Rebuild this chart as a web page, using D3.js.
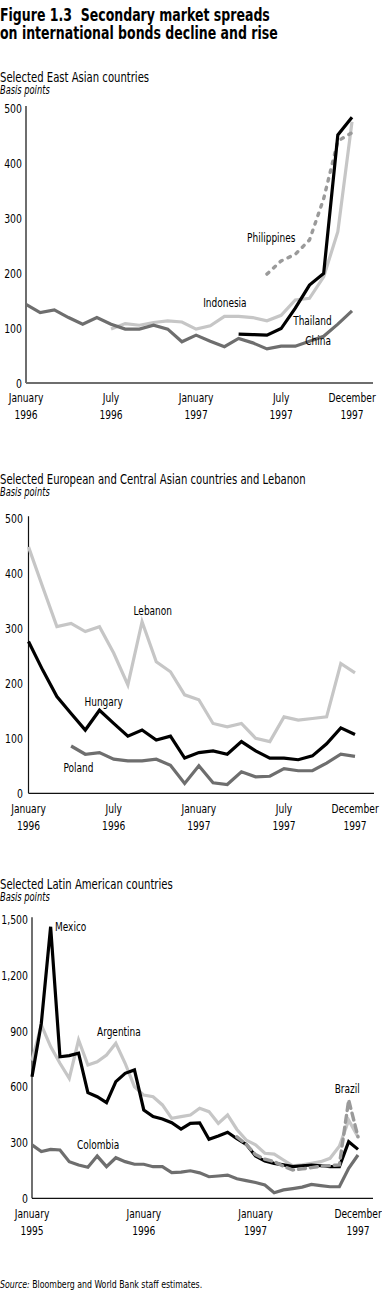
<!DOCTYPE html>
<html>
<head>
<meta charset="utf-8">
<script src="https://cdn.jsdelivr.net/npm/d3@7"></script>
<style>
  html, body { margin: 0; padding: 0; background: #fff; }
  svg { display: block; }
  text { font-family: "DejaVu Sans Condensed", "DejaVu Sans", sans-serif; fill: #000; }
</style>
</head>
<body>
<svg id="chart" width="382" height="1291"></svg>
<script>
// ---------------- DATA ----------------
// Panel 1: Selected East Asian countries, monthly Jan 1996 (0) .. Dec 1997 (23)
const china       = [143,128,133,119,107,119,107,98,98,105,98,75,87,76,66,81,73,62,67,67,76,85,107,131];
const indonesiaStart = 6;
const indonesia   = [98,108,105,110,113,111,98,104,121,121,119,113,123,151,154,193,275,475];
const thailandStart = 15;
const thailand    = [89,88,87,99,136,178,199,451,483];
const philippinesStart = 17;
const philippines = [198,222,234,260,335,440,455];
const eaXTicks = [0, 6, 12, 18, 23];
const eaXLabels = [["January","1996"],["July","1996"],["January","1997"],["July","1997"],["December","1997"]];
const eaYTicks = [0,100,200,300,400,500];

// Panel 2: Europe & Central Asia and Lebanon, monthly Jan 1996 .. Dec 1997
const lebanon = [448,375,303,309,294,303,255,197,312,239,221,179,170,127,121,127,100,94,139,133,136,139,236,219];
const hungary = [276,224,176,145,115,151,127,104,115,97,104,64,74,77,71,94,77,64,64,61,68,90,119,107];
const polandStart = 3;
const poland  = [86,71,74,62,59,59,62,51,18,50,19,16,39,30,31,45,41,41,55,71,67];
const euXTicks = [0, 6, 12, 18, 23];
const euXLabels = [["January","1996"],["July","1996"],["January","1997"],["July","1997"],["December","1997"]];
const euYTicks = [0,100,200,300,400,500];

// Panel 3: Latin America, monthly Jan 1995 (0) .. Dec 1997 (35)
const mexico    = [654,941,1460,761,767,780,568,546,514,627,672,690,475,439,426,406,372,403,406,317,335,355,320,290,227,200,188,180,170,175,179,175,170,170,304,263];
const argentina = [740,932,816,726,645,851,717,734,770,833,726,600,555,546,502,430,439,448,484,466,403,448,370,313,287,242,238,206,175,180,188,197,215,280,420,330];
const colombia  = [287,251,263,260,197,179,167,227,170,218,197,183,183,170,170,138,141,148,137,116,120,125,105,95,85,72,30,45,52,60,75,68,62,62,161,233];
const brazilStart = 22;
const brazil    = [330,290,235,210,197,172,152,158,165,172,176,180,528,331];
const laXTicks = [0, 12, 24, 35];
const laXLabels = [["January","1995"],["January","1996"],["January","1997"],["December","1997"]];
const laYTicks = [0,300,600,900,1200,1500];

// ---------------- DRAWING ----------------
const svg = d3.select("#chart");
const SX = 0.8; // horizontal condensing of the text face

function ctext(parent, x, y, str, size, sx, opts) {
  opts = opts || {};
  const t = parent.append("text")
    .attr("transform", `translate(${x},${y}) scale(${sx},1)`)
    .style("font-size", size + "px")
    .attr("text-anchor", opts.anchor || "start");
  if (opts.baseline) t.attr("dominant-baseline", opts.baseline);
  if (opts.weight) t.style("font-weight", opts.weight);
  if (opts.italic) t.style("font-style", "italic");
  if (str !== null) t.text(str);
  return t;
}

// Title
ctext(svg, 0, 21, "Figure 1.3\u00A0 Secondary market spreads", 17, 0.82, { weight: "bold" });
ctext(svg, 0, 39, "on international bonds decline and rise", 17, 0.82, { weight: "bold" });

function toPts(vals, start) { return vals.map((v, i) => [start + i, v]); }

function panel(cfg) {
  const g = svg.append("g");
  const x = d3.scaleLinear().domain(cfg.xDomain).range(cfg.xRange);
  const y = d3.scaleLinear().domain(cfg.yDomain).range(cfg.yRange);

  ctext(g, 0, cfg.headY, cfg.heading, 14, SX);
  ctext(g, 0, cfg.headY + 12, "Basis points", 11.5, 0.8, { italic: true });

  // axis lines
  g.append("line").attr("x1", x.range()[0]).attr("x2", x.range()[0])
    .attr("y1", y.range()[1] - 2).attr("y2", y.range()[0])
    .attr("stroke", cfg.axisColor).attr("stroke-width", cfg.axisWidth);
  g.append("line").attr("x1", x.range()[0]).attr("x2", cfg.xAxisEnd)
    .attr("y1", y.range()[0]).attr("y2", y.range()[0])
    .attr("stroke", cfg.axisColor).attr("stroke-width", cfg.axisWidth);

  // y tick labels
  const yAxis = d3.axisLeft(y).tickValues(cfg.yTicks).tickSize(0).tickPadding(cfg.yPad)
    .tickFormat(d3.format(","));
  const ya = g.append("g").attr("transform", `translate(${x.range()[0]},0)`).call(yAxis);
  ya.select(".domain").remove();
  ya.selectAll("text").style("font-size", "13px")
    .style("font-family", '"DejaVu Sans Condensed", "DejaVu Sans", sans-serif')
    .attr("transform", `scale(${SX},1)`);

  // x tick labels (two lines)
  cfg.xTicks.forEach((d, i) => {
    const t = ctext(g, x(d), y.range()[0], null, 13, 0.78, { anchor: "middle" });
    t.append("tspan").attr("x", 0).attr("y", 19.5).text(cfg.xLabels[i][0]);
    t.append("tspan").attr("x", 0).attr("y", 36.5).text(cfg.xLabels[i][1]);
  });

  const line = d3.line().x(d => x(d[0])).y(d => y(d[1]));
  cfg.series.forEach(s => {
    g.append("path").datum(toPts(s.values, s.start))
      .attr("d", line).attr("fill", "none")
      .attr("stroke", s.color).attr("stroke-width", s.width || 3.2)
      .attr("stroke-linejoin", "miter")
      .attr("stroke-linecap", s.dash ? "round" : "butt")
      .attr("stroke-dasharray", s.dash || null);
  });

  cfg.labels.forEach(l => {
    ctext(g, x(l.m), y(l.v), l.text, 12.5, SX, { baseline: "middle" });
  });
}

const LIGHT = "#c6c6c6", DARK = "#6e6e6e", DASH = "#9a9a9a";

panel({
  heading: "Selected East Asian countries", headY: 82,
  xDomain: [0, 23], xRange: [26, 352], xAxisEnd: 373,
  yDomain: [0, 500], yRange: [383, 108],
  axisColor: "#6e6e6e", axisWidth: 2, yPad: 5,
  yTicks: eaYTicks, xTicks: eaXTicks, xLabels: eaXLabels,
  series: [
    { values: indonesia, start: indonesiaStart, color: LIGHT },
    { values: china, start: 0, color: DARK },
    { values: philippines, start: philippinesStart, color: DASH, dash: "2.5,6.5", width: 3.4 },
    { values: thailand, start: thailandStart, color: "#000" }
  ],
  labels: [
    { text: "Philippines", m: 15.6, v: 262 },
    { text: "Indonesia", m: 12.5, v: 145 },
    { text: "Thailand", m: 18.85, v: 111 },
    { text: "China", m: 19.7, v: 75 }
  ]
});

panel({
  heading: "Selected European and Central Asian countries and Lebanon", headY: 484,
  xDomain: [0, 23], xRange: [28.5, 355], xAxisEnd: 374,
  yDomain: [0, 500], yRange: [793.3, 518.3],
  axisColor: "#111", axisWidth: 1.2, yPad: 7,
  yTicks: euYTicks, xTicks: euXTicks, xLabels: euXLabels,
  series: [
    { values: lebanon, start: 0, color: LIGHT },
    { values: poland, start: polandStart, color: DARK },
    { values: hungary, start: 0, color: "#000" }
  ],
  labels: [
    { text: "Lebanon", m: 7.4, v: 330 },
    { text: "Hungary", m: 3.94, v: 164 },
    { text: "Poland", m: 2.46, v: 44 }
  ]
});

panel({
  heading: "Selected Latin American countries", headY: 889,
  xDomain: [0, 35], xRange: [32, 358], xAxisEnd: 373,
  yDomain: [0, 1500], yRange: [1198.3, 919.3],
  axisColor: "#111", axisWidth: 1.2, yPad: 5,
  yTicks: laYTicks, xTicks: laXTicks, xLabels: laXLabels,
  series: [
    { values: argentina, start: 0, color: LIGHT },
    { values: colombia, start: 0, color: DARK },
    { values: mexico, start: 0, color: "#000" },
    { values: brazil, start: brazilStart, color: DASH, dash: "7,5", width: 3.4 }
  ],
  labels: [
    { text: "Mexico", m: 2.47, v: 1453 },
    { text: "Argentina", m: 6.98, v: 889 },
    { text: "Colombia", m: 4.83, v: 281 },
    { text: "Brazil", m: 32.5, v: 585 }
  ]
});

// Source
const src = ctext(svg, 0, 1288, null, 10.5, 0.83);
src.append("tspan").style("font-style", "italic").text("Source:");
src.append("tspan").text(" Bloomberg and World Bank staff estimates.");
</script>
</body>
</html>
